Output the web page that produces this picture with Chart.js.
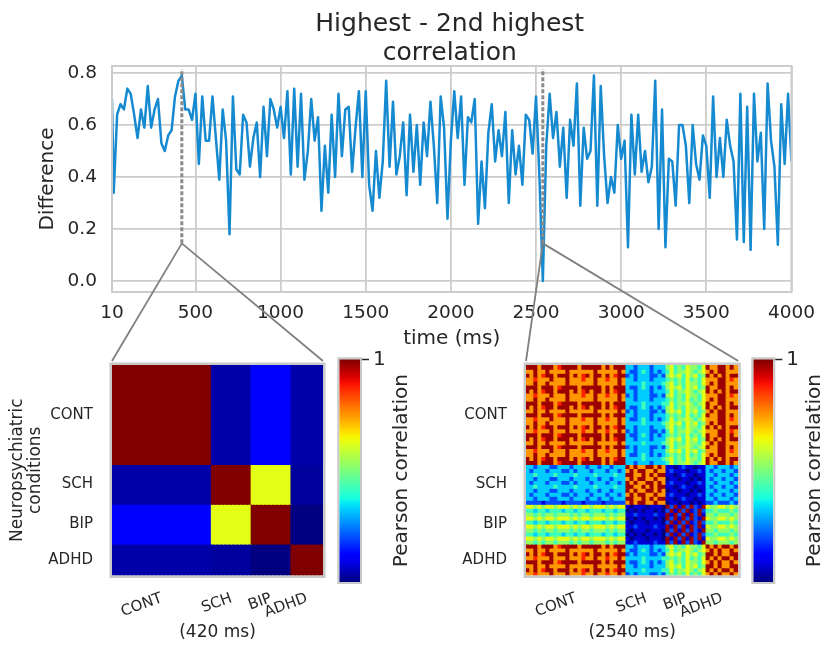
<!DOCTYPE html>
<html>
<head>
<meta charset="utf-8">
<script src="https://cdn.jsdelivr.net/npm/chart.js@4.4.1/dist/chart.umd.min.js"></script>
<style>
  html, body { margin: 0; padding: 0; background: #ffffff; }
  #page { position: relative; width: 825px; height: 647px; overflow: hidden; }
  canvas { position: absolute; }
</style>
</head>
<body>
<div id="page">
  <canvas id="trace" width="825" height="647" style="left:0px;top:0px;z-index:0"></canvas>
  <canvas id="heat420" width="330" height="307" style="left:0px;top:340px;z-index:1"></canvas>
  <canvas id="bar420" width="90" height="307" style="left:330px;top:340px;z-index:1"></canvas>
  <canvas id="heat2540" width="325" height="307" style="left:420px;top:340px;z-index:1"></canvas>
  <canvas id="bar2540" width="80" height="307" style="left:745px;top:340px;z-index:1"></canvas>
</div>
<script>
// ---- data ----
const titleLines = ['Highest - 2nd highest', 'correlation'];
const xTickVals = [10, 500, 1000, 1500, 2000, 2500, 3000, 3500, 4000];
const yTickVals = [0, 0.2, 0.4, 0.6, 0.8];

// sampling times (ms): 10, then every 20 ms up to 4000
const timesMs = [10];
for (let t = 20; t <= 4000; t += 20) timesMs.push(t);

// highest minus 2nd highest correlation, one value per sample time
const diffValues = [
  0.70, 0.34, 0.64, 0.68, 0.66, 0.74, 0.72, 0.64, 0.55, 0.66,
  0.59, 0.75, 0.59, 0.66, 0.70, 0.53, 0.50, 0.56, 0.58, 0.71,
  0.77, 0.79, 0.66, 0.66, 0.62, 0.72, 0.45, 0.71, 0.54, 0.54,
  0.71, 0.55, 0.39, 0.66, 0.54, 0.18, 0.71, 0.43, 0.41, 0.64,
  0.61, 0.44, 0.55, 0.61, 0.40, 0.67, 0.48, 0.70, 0.66, 0.59,
  0.67, 0.55, 0.73, 0.41, 0.74, 0.44, 0.72, 0.39, 0.50, 0.70,
  0.54, 0.63, 0.27, 0.52, 0.34, 0.64, 0.40, 0.72, 0.48, 0.66,
  0.67,
  0.42, 0.59, 0.73, 0.40, 0.73, 0.37, 0.27, 0.50, 0.32, 0.46,
  0.77, 0.44, 0.69, 0.41, 0.48, 0.61, 0.33, 0.64, 0.42, 0.60,
  0.37, 0.61, 0.48, 0.69, 0.52, 0.30, 0.71, 0.59, 0.24, 0.54,
  0.73, 0.55, 0.71, 0.37, 0.63, 0.61, 0.70, 0.22, 0.46, 0.28,
  0.57, 0.68, 0.46, 0.58, 0.48, 0.65, 0.30, 0.58, 0.41, 0.52,
  0.37, 0.64, 0.62, 0.49, 0.71, 0.40, 0.00, 0.52, 0.72, 0.55,
  0.65, 0.44, 0.59, 0.32,
  0.62, 0.52, 0.76, 0.29, 0.59, 0.47, 0.50, 0.79, 0.29, 0.75,
  0.48, 0.30, 0.40, 0.34, 0.60, 0.47, 0.54, 0.13, 0.64, 0.41,
  0.64, 0.42, 0.50, 0.38, 0.44, 0.77, 0.20, 0.66, 0.13, 0.47,
  0.46, 0.29, 0.60, 0.60, 0.52, 0.30, 0.60, 0.45, 0.39, 0.56,
  0.52, 0.32, 0.71, 0.40, 0.55, 0.40, 0.62, 0.52, 0.46, 0.16,
  0.72, 0.15, 0.67, 0.12, 0.72, 0.46, 0.57, 0.20, 0.76, 0.54,
  0.44, 0.14, 0.68, 0.45, 0.72, 0.46
];

// the two highlighted instants and the span of their dashed markers
const zoomTimes = [420, 2540];
const dashedSpan = [0.145, 0.815];

// heatmap groups
const groupLabels = ['CONT', 'SCH', 'BIP', 'ADHD'];
const blockSizes = [25, 10, 10, 8];

// group x group correlation at 420 ms
const corr420 = [
  [1.00, -0.93, -0.77, -0.93],
  [-0.93, 1.00, 0.25, -0.95],
  [-0.77, 0.25, 1.00, -1.00],
  [-0.93, -0.95, -1.00, 1.00]
];

// subject x subject correlation at 2540 ms, one digit per cell (index into levelValues)
const levelValues = [-1, -0.85, -0.6, -0.35, -0.15, 0.05, 0.25, 0.5, 0.75, 0.95];
const corr2540Rows = [
  '9997999789999799999797999 3323332333 5645465546 97799797',
  '7797797777977777797777797 3223432323 4645565456 79799777',
  '9797899799979789799797899 2323332232 5656465645 97979799',
  '7787779777977787797787797 3323332333 4545464546 77799787',
  '7797797777977777797777797 3333433334 5645465546 79799777',
  '9997999789999799999797999 3223432323 5656465645 97799797',
  '9797899799979789799797899 3323332333 4645565456 97979799',
  '7787779777977787797787797 2323332232 5645465546 77799787',
  '7797797777977777797777797 3323332333 4545464546 79799777',
  '9997999789999799999797999 3333433334 4645565456 97799797',
  '9797899799979789799797899 3223432323 5645465546 97979799',
  '7797797777977777797777797 2323332232 5656465645 79799777',
  '9997999789999799999797999 3323332333 4545464546 97799797',
  '7787779777977787797787797 3223432323 4645565456 77799787',
  '7797797777977777797777797 3333433334 5656465645 79799777',
  '9797899799979789799797899 3323332333 5645465546 97979799',
  '7787779777977787797787797 2323332232 4645565456 77799787',
  '9997999789999799999797999 3223432323 4545464546 97799797',
  '9797899799979789799797899 3323332333 5656465645 97979799',
  '7797797777977777797777797 3333433334 5645465546 79799777',
  '9997999789999799999797999 2323332232 4645565456 97799797',
  '7787779777977787797787797 3323332333 5656465645 77799787',
  '7797797777977777797777797 3223432323 4545464546 79799777',
  '9797899799979789799797899 3333433334 5645465546 97979799',
  '9997999789999799999797999 3323332333 4645565456 97799797',
  '3323332233323332332332333 9797799797 1101211011 33233323',
  '3233323332232333233323323 7979977977 1211101121 32332332',
  '3343333433334333343333433 9977979799 1101211011 33233323',
  '3323332233323332332332333 7979977977 0110110101 32332332',
  '3233323332232333233323323 9797799797 1211101121 33233323',
  '3343333433334333343333433 9977979799 1101211011 32332332',
  '3323332233323332332332333 9797799797 0110110101 33233323',
  '3233323332232333233323323 7979977977 1211101121 32332332',
  '3323332233323332332332333 9977979799 1101211011 33233323',
  '2222122221222212222122222 7979977977 0110110101 22322232',
  '6656566566656566566656566 1011101110 9291929219 65566565',
  '4434434443443443444344344 0101011010 2919291292 44544454',
  '5545455455545455455545455 1121111211 9192919291 55455545',
  '6656566566656566566656566 0101011010 9291929219 65566565',
  '4434434443443443444344344 1011101110 2919291292 44544454',
  '6656566566656566566656566 1121111211 9192919291 65566565',
  '5545455455545455455545455 1011101110 9291929219 55455545',
  '4434434443443443444344344 0101011010 2919291292 44544454',
  '6656566566656566566656566 1011101110 9192919291 65566565',
  '5545455455545455455545455 1121111211 9291929219 55455545',
  '9997999789999799999797999 3323332333 5645465546 97979979',
  '7797797777977777797777797 3223432323 4645565456 79797797',
  '9797899799979789799797899 2323332232 5656465645 99797799',
  '7787779777977787797787797 3333433334 4545464546 97979979',
  '9997999789999799999797999 3223432323 5645465546 79797797',
  '7797797777977777797777797 3323332333 5656465645 99797799',
  '9797899799979789799797899 3333433334 4645565456 97979979',
  '7787779777977787797787797 2323332232 4545464546 79797797'
];

const colorbarRange = [-1, 1];
const colorbarTicks = [1];

// ---- styling ----
const FONT = "'DejaVu Sans', sans-serif";
const TEXT = '#262626';
const GRID = '#cccccc';
Chart.defaults.font.family = FONT;
Chart.defaults.color = TEXT;

// matplotlib "jet" colormap
const JET = {
  r: [[0, 0], [0.35, 0], [0.66, 1], [0.89, 1], [1, 0.5]],
  g: [[0, 0], [0.125, 0], [0.375, 1], [0.64, 1], [0.91, 0], [1, 0]],
  b: [[0, 0.5], [0.11, 1], [0.34, 1], [0.65, 0], [1, 0]]
};
function interp(pts, t) {
  for (let i = 1; i < pts.length; i++) {
    if (t <= pts[i][0]) {
      const [t0, v0] = pts[i - 1];
      const [t1, v1] = pts[i];
      return v0 + (v1 - v0) * (t - t0) / (t1 - t0);
    }
  }
  return pts[pts.length - 1][1];
}
function jet(v) {
  const t = Math.min(1, Math.max(0, (v + 1) / 2));
  const r = Math.round(255 * interp(JET.r, t));
  const g = Math.round(255 * interp(JET.g, t));
  const b = Math.round(255 * interp(JET.b, t));
  return `rgb(${r},${g},${b})`;
}

// frame around the plot area
Chart.register({
  id: 'frame',
  afterDatasetsDraw(chart, args, opts) {
    if (!opts || !opts.color) return;
    const {left, top, right, bottom} = chart.chartArea;
    const o = opts.outside ? opts.width / 2 : 0;
    const ctx = chart.ctx;
    ctx.save();
    ctx.strokeStyle = opts.color;
    ctx.lineWidth = opts.width;
    ctx.strokeRect(left - o, top - o, right - left + 2 * o, bottom - top + 2 * o);
    ctx.restore();
  }
});

// rotated label to the right of a colorbar (reads bottom to top)
Chart.register({
  id: 'sideTitle',
  afterDraw(chart, args, opts) {
    if (!opts || !opts.text) return;
    const {right, top, bottom} = chart.chartArea;
    const ctx = chart.ctx;
    ctx.save();
    ctx.translate(right + opts.offset, (top + bottom) / 2);
    ctx.rotate(-Math.PI / 2);
    ctx.font = `${opts.size}px ${FONT}`;
    ctx.fillStyle = TEXT;
    ctx.textAlign = 'center';
    ctx.textBaseline = 'middle';
    ctx.fillText(opts.text, 0, 0);
    ctx.restore();
  }
});

// ---- heatmaps ----
const blockStarts = [];
let nUnits = 0;
blockSizes.forEach(s => { blockStarts.push(nUnits); nUnits += s; });
const blockCenters = blockStarts.map((s, i) => s + blockSizes[i] / 2);
const unitBlock = [];
blockSizes.forEach((s, b) => { for (let k = 0; k < s; k++) unitBlock.push(b); });
const units = unitBlock.map((b, c) => c);

function heatOptions(opts) {
  return {
    responsive: false,
    animation: false,
    events: [],
    devicePixelRatio: 1,
    layout: { padding: opts.padding },
    plugins: {
      legend: { display: false },
      tooltip: { enabled: false },
      frame: { color: '#c8c8c8', width: 2.5, outside: true }
    },
    scales: {
      x: {
        type: 'linear', min: 0, max: nUnits, offset: false,
        afterBuildTicks: s => { s.ticks = blockCenters.map(v => ({ value: v })); },
        afterFit: s => { s.height = 67; },
        grid: { display: false, offset: false },
        border: { display: false },
        ticks: {
          autoSkip: false, minRotation: 20, maxRotation: 20, padding: 6,
          font: { size: 15 }, color: TEXT,
          callback: (v, i) => groupLabels[i]
        },
        title: { display: true, text: opts.xTitle, font: { size: 17 }, color: TEXT, padding: { top: 0, bottom: 0 } }
      },
      y: {
        type: 'linear', min: 0, max: nUnits, reverse: true,
        afterBuildTicks: s => { s.ticks = blockCenters.map(v => ({ value: v })); },
        afterFit: s => { s.width = opts.yWidth; },
        grid: { display: false },
        border: { display: false },
        ticks: { padding: opts.yPad, font: { size: 15 }, color: TEXT, callback: (v, i) => groupLabels[i] },
        title: opts.yTitle
          ? { display: true, text: opts.yTitle, font: { size: 17, lineHeight: 1.08 }, color: TEXT, padding: { top: 8, bottom: 0 } }
          : { display: false }
      }
    }
  };
}

const cellStyle = {
  grouped: false, barPercentage: 1, categoryPercentage: 1,
  borderWidth: 0, borderSkipped: false, inflateAmount: 0.7
};

const heat420 = new Chart(document.getElementById('heat420'), {
  type: 'bar',
  data: {
    datasets: corr420.map((row, rb) => Object.assign({
      data: units.map(c => ({ x: c + 0.5, y: [blockStarts[rb], blockStarts[rb] + blockSizes[rb]] })),
      backgroundColor: units.map(c => jet(row[unitBlock[c]]))
    }, cellStyle))
  },
  options: heatOptions({
    padding: { left: 0, right: 7, top: 25, bottom: 4.5 },
    yWidth: 112, yPad: 11,
    xTitle: '(420 ms)',
    yTitle: ['Neuropsychiatric', 'conditions']
  })
});

const heat2540 = new Chart(document.getElementById('heat2540'), {
  type: 'bar',
  data: {
    datasets: corr2540Rows.map((str, r) => {
      const cells = str.replace(/ /g, '').split('');
      return Object.assign({
        data: cells.map((ch, c) => ({ x: c + 0.5, y: [r, r + 1] })),
        backgroundColor: cells.map(ch => jet(levelValues[+ch]))
      }, cellStyle);
    })
  },
  options: heatOptions({
    padding: { left: 0, right: 6.7, top: 25, bottom: 4.5 },
    yWidth: 106, yPad: 11,
    xTitle: '(2540 ms)',
    yTitle: null
  })
});

// ---- colorbars ----
function jetGradient(context) {
  const area = context.chart.chartArea;
  if (!area) return null;
  const g = context.chart.ctx.createLinearGradient(0, area.bottom, 0, area.top);
  for (let i = 0; i <= 40; i++) g.addColorStop(i / 40, jet(-1 + 2 * i / 40));
  return g;
}

function colorbar(id, padLeft, axisWidth) {
  return new Chart(document.getElementById(id), {
    type: 'bar',
    data: {
      labels: [''],
      datasets: [{ data: [colorbarRange], backgroundColor: jetGradient, borderWidth: 0, barPercentage: 1, categoryPercentage: 1 }]
    },
    options: {
      responsive: false,
      animation: false,
      events: [],
      devicePixelRatio: 1,
      layout: { padding: { left: padLeft, right: 0, top: 19.3, bottom: 65 } },
      plugins: {
        legend: { display: false },
        tooltip: { enabled: false },
        frame: { color: '#c8c8c8', width: 2, outside: true },
        sideTitle: { text: 'Pearson correlation', offset: 41.7, size: 20 }
      },
      scales: {
        x: { display: false },
        y: {
          position: 'right', min: colorbarRange[0], max: colorbarRange[1],
          afterBuildTicks: s => { s.ticks = colorbarTicks.map(v => ({ value: v })); },
          afterFit: s => { s.width = axisWidth; },
          grid: { drawOnChartArea: false, drawTicks: true, tickLength: 9, tickColor: TEXT, tickWidth: 1.5 },
          border: { display: false },
          ticks: { padding: 4, font: { size: 20 }, color: TEXT, callback: v => String(v) }
        }
      }
    }
  });
}
colorbar('bar420', 9.3, 60);
colorbar('bar2540', 8.3, 51.7);

// ---- difference trace ----
const zoomTargets = [
  { time: zoomTimes[0], chart: heat420, ox: 0, oy: 340 },
  { time: zoomTimes[1], chart: heat2540, ox: 420, oy: 340 }
];

new Chart(document.getElementById('trace'), {
  type: 'line',
  data: {
    datasets: [
      ...zoomTimes.map(t => ({
        data: dashedSpan.map(v => ({ x: t, y: v })),
        borderColor: '#8a8a8a', borderWidth: 3, borderDash: [4, 2], pointRadius: 0
      })),
      {
        data: timesMs.map((t, i) => ({ x: t, y: diffValues[i] })),
        borderColor: '#168ad0', borderWidth: 2.5, pointRadius: 0, tension: 0,
        borderJoinStyle: 'round'
      }
    ]
  },
  options: {
    responsive: false,
    animation: false,
    events: [],
    devicePixelRatio: 1,
    layout: { padding: { left: 0, right: 33, top: 66, bottom: 289 } },
    plugins: {
      legend: { display: false },
      tooltip: { enabled: false },
      frame: { color: GRID, width: 2 }
    },
    scales: {
      x: {
        type: 'linear', min: 10, max: 4000,
        afterBuildTicks: s => { s.ticks = xTickVals.map(v => ({ value: v })); },
        afterFit: s => { s.height = 66; },
        grid: { color: GRID, lineWidth: 1.8, drawTicks: false },
        border: { display: false },
        ticks: { padding: 10, font: { size: 18.5 }, color: TEXT, maxRotation: 0, callback: v => String(v) },
        title: { display: true, text: 'time (ms)', font: { size: 20 }, color: TEXT, padding: { top: 0, bottom: 7 } }
      },
      y: {
        min: -0.042, max: 0.827,
        afterBuildTicks: s => { s.ticks = yTickVals.map(v => ({ value: v })); },
        afterFit: s => { s.width = 112; },
        grid: { color: GRID, lineWidth: 1.8, drawTicks: false },
        border: { display: false },
        ticks: { padding: 15, font: { size: 18.5 }, color: TEXT, callback: v => v.toFixed(1) },
        title: { display: true, text: 'Difference', font: { size: 20 }, color: TEXT, padding: { top: 36, bottom: 0 } }
      }
    }
  },
  plugins: [
    {
      id: 'heading',
      afterDraw(chart) {
        const {left, right} = chart.chartArea;
        const ctx = chart.ctx;
        ctx.save();
        ctx.font = `25px ${FONT}`;
        ctx.fillStyle = TEXT;
        ctx.textAlign = 'center';
        ctx.textBaseline = 'alphabetic';
        ctx.fillText(titleLines[0], (left + right) / 2 - 2, 31);
        ctx.fillText(titleLines[1], (left + right) / 2 - 2, 60);
        ctx.restore();
      }
    },
    {
      id: 'zoomLinks',
      afterDraw(chart) {
        const xs = chart.scales.x, ys = chart.scales.y, ctx = chart.ctx;
        ctx.save();
        ctx.strokeStyle = '#808080';
        ctx.lineWidth = 1.8;
        zoomTargets.forEach(z => {
          const px = xs.getPixelForValue(z.time);
          const py = ys.getPixelForValue(dashedSpan[0]);
          const area = z.chart.chartArea;
          [area.left, area.right].forEach(tx => {
            ctx.beginPath();
            ctx.moveTo(px, py);
            ctx.lineTo(z.ox + tx, z.oy + area.top - 4);
            ctx.stroke();
          });
        });
        ctx.restore();
      }
    }
  ]
});
</script>
</body>
</html>
